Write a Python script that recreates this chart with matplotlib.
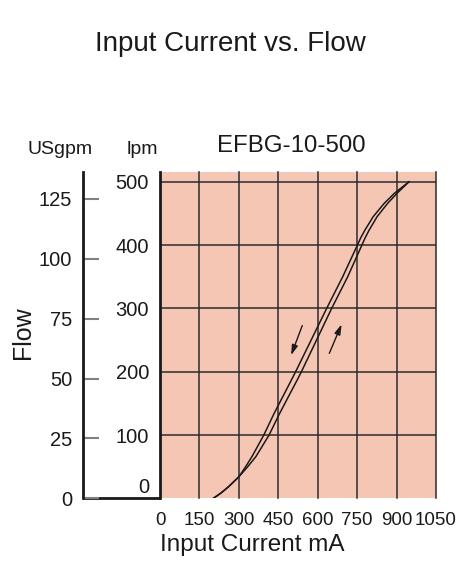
import matplotlib
matplotlib.use("Agg")
import matplotlib.pyplot as plt
import matplotlib.transforms as mtransforms

plt.rcParams['font.family'] = ['Liberation Sans', 'DejaVu Sans']

# hysteresis curves (mA, lpm)
flow_lpm = [0, 8, 18, 34, 50, 66, 100, 134, 187, 200, 300, 350, 400, 412, 424, 445, 466, 482, 500]
down_ma = [203, 231, 260, 300, 326, 350, 395, 434, 500, 516, 634, 695, 751, 764, 780, 811, 853, 892, 947]
up_ma = [203, 231, 260, 300, 334, 365, 415, 455, 522, 538, 653, 714, 768, 781, 796, 826, 866, 902, 947]

x_ticks = [0, 150, 300, 450, 600, 750, 900, 1050]
lpm_ticks = [0, 100, 200, 300, 400, 500]
gpm_ticks = [0, 25, 50, 75, 100, 125]
LPM_PER_GPM = 3.785
y_top = 516

W, H = 458, 562
fig = plt.figure(figsize=(W / 100, H / 100), dpi=100)
left, right, top, bottom = 160, 436, 171.7, 498.3
ax = fig.add_axes([left / W, 1 - bottom / H, (right - left) / W, (bottom - top) / H])
ax.set_facecolor('#F5C6B3')
ax.set_xlim(0, 1050)
ax.set_ylim(0, y_top)

for s in ['top', 'right', 'bottom']:
    ax.spines[s].set_visible(False)
ax.spines['left'].set_linewidth(2)
ax.spines['left'].set_color('#1a1a1a')

for x in x_ticks[1:]:
    ax.axvline(x, color='#2b2b2b', lw=1.1, clip_on=False, zorder=1)
for y in lpm_ticks[1:]:
    ax.axhline(y, color='#2b2b2b', lw=1.1, zorder=1)

ax.plot(down_ma, flow_lpm, color='#1a1a1a', lw=1.1, zorder=3)
ax.plot(up_ma, flow_lpm, color='#1a1a1a', lw=1.1, zorder=3)

arrow = dict(arrowstyle='-|>,head_length=0.6,head_width=0.18', color='#1a1a1a', lw=1)
ax.annotate('', xy=(495, 222), xytext=(545, 277), arrowprops=arrow)
ax.annotate('', xy=(695, 279), xytext=(640, 225), arrowprops=arrow)

ax.set_xticks(x_ticks)
ax.set_xticklabels([str(v) for v in x_ticks], fontsize=13.5)
ax.set_yticks(lpm_ticks)
ax.set_yticklabels([str(v) for v in lpm_ticks], fontsize=14.5)
ax.tick_params(axis='both', length=0, colors='#1a1a1a')
ax.tick_params(axis='x', pad=10)
ax.tick_params(axis='y', pad=8)
lab0 = ax.get_yticklabels()[0]
lab0.set_transform(lab0.get_transform() + mtransforms.ScaledTranslation(0, 13 / 100, fig.dpi_scale_trans))

# flow in US gallons per minute on the outer axis
ax2 = ax.twinx()
ax2.set_ylim(0, y_top / LPM_PER_GPM)
for s in ['top', 'right', 'bottom']:
    ax2.spines[s].set_visible(False)
ax2.spines['left'].set_visible(True)
ax2.spines['left'].set_position(('outward', (left - 83.3) * 0.72))
ax2.spines['left'].set_linewidth(2)
ax2.spines['left'].set_color('#1a1a1a')
ax2.yaxis.set_ticks_position('left')
ax2.yaxis.set_label_position('left')
ax2.set_yticks(gpm_ticks)
ax2.set_yticklabels([str(v) for v in gpm_ticks], fontsize=14.5)
ax2.tick_params(axis='y', direction='in', length=11.5, width=1.5, color='#808080',
                labelcolor='#1a1a1a', pad=8)
ax.plot([-(left - 83.3) / (right - left), 0], [0, 0], transform=ax.transAxes,
        color='#1a1a1a', lw=2, clip_on=False, solid_capstyle='butt')

fig.text(230 / W, 1 - 44 / H, 'Input Current vs. Flow', fontsize=20, ha='center', va='center', color='#1a1a1a')
fig.text(291 / W, 1 - 146 / H, 'EFBG-10-500', fontsize=17.3, ha='center', va='center', color='#1a1a1a')
fig.text(60 / W, 1 - 149 / H, 'USgpm', fontsize=14, ha='center', va='center', color='#1a1a1a')
fig.text(142 / W, 1 - 149 / H, 'lpm', fontsize=14, ha='center', va='center', color='#1a1a1a')
fig.text(23 / W, 1 - 333 / H, 'Flow', fontsize=18, rotation=90, ha='center', va='center', color='#1a1a1a')
fig.text(252 / W, 1 - 545 / H, 'Input Current mA', fontsize=17.5, ha='center', va='center', color='#1a1a1a')

fig.savefig('out.png', dpi=100, facecolor='white')
